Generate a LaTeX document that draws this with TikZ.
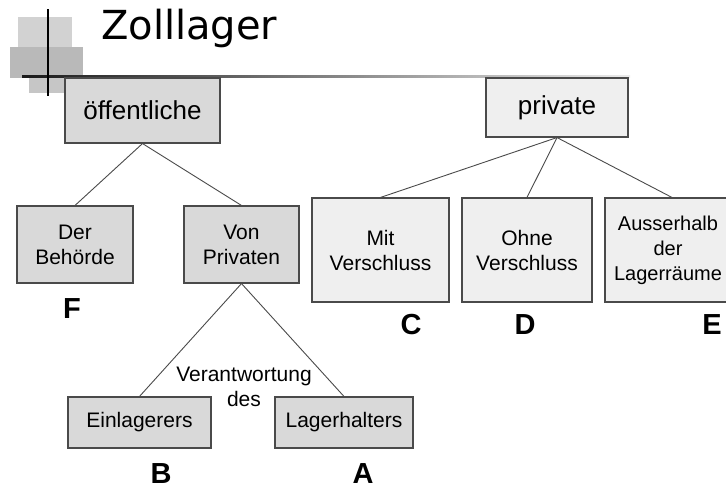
\documentclass[tikz,border=0pt]{standalone}
\usepackage{fontspec}
\setmainfont{Liberation Sans}
\newfontfamily\titlefont{DejaVu Sans}
\usepackage{tikz}
\usetikzlibrary{positioning}

\definecolor{boxdark}{HTML}{D9D9D9}
\definecolor{boxlight}{HTML}{EFEFEF}
\definecolor{edgegray}{HTML}{4A4A4A}

\tikzset{
  darkbox/.style={draw=edgegray, line width=1.1pt, fill=boxdark, align=center, inner sep=2pt,
    font=\fontsize{21}{25}\selectfont},
  lightbox/.style={darkbox, fill=boxlight},
  letter/.style={font=\fontsize{29}{34}\selectfont\bfseries, inner sep=0pt},
  branch/.style={draw=edgegray, line width=0.9pt}
}

\begin{document}
\begin{tikzpicture}[x=1pt, y=-1pt]
    \useasboundingbox (0,0) rectangle (726,491);
    \clip (0,0) rectangle (726,491);
    \fill[white] (0,0) rectangle (726,491);

    % Title decoration
    \fill[gray!35] (18,17) rectangle (72,50);
    \fill[gray!55] (10,47) rectangle (83,78);
    \fill[gray!45] (29,78) rectangle (65,93);
    \shade[left color=black!90, middle color=gray!85, right color=gray!15] (22,75) rectangle (630,77.5);
    \draw[line width=1.6pt] (48,9) -- (48,96);
    \node[anchor=base west, inner sep=0pt, font=\titlefont\fontsize{40}{44}\selectfont] (title) at (101,39) {Zolllager};

    % Boxes
    \node[darkbox, minimum width=155pt, minimum height=65pt, font=\fontsize{26}{31}\selectfont] (oeff) at (142.5,110.5) {öffentliche};
    \node[lightbox, minimum width=142pt, minimum height=59pt, font=\fontsize{26}{31}\selectfont] (priv) at (557,107.5) {private};

    \node[darkbox, minimum width=116pt, minimum height=77pt] (behoerde) at (75,244.5) {Der\\Behörde};
    \node[darkbox, minimum width=115pt, minimum height=77pt] (vonpriv) at (241.5,244.5) {Von\\Privaten};
    \node[darkbox, minimum width=143pt, minimum height=51pt] (einl) at (139.5,422.5) {Einlagerers};
    \node[darkbox, minimum width=138pt, minimum height=51pt] (lagerh) at (344,422.5) {Lagerhalters};

    \node[lightbox, minimum width=137pt, minimum height=104pt] (mit) at (380.5,250) {Mit\\Verschluss};
    \node[lightbox, minimum width=130pt, minimum height=104pt] (ohne) at (527,250) {Ohne\\Verschluss};
    \node[lightbox, minimum width=134pt, minimum height=104pt] (ausser) at (672,250) {};
    \node[align=center, inner sep=0pt, font=\fontsize{20}{25}\selectfont] (ausserText) at (668,250) {Ausserhalb\\der\\Lagerräume};

    \node[align=center, inner sep=0pt, font=\fontsize{21}{25}\selectfont] (verantw) at (244,387) {Verantwortung\\des};

    % Branches
    \draw[branch] (oeff.south) -- (behoerde.north);
    \draw[branch] (oeff.south) -- (vonpriv.north);
    \draw[branch] (vonpriv.south) -- (einl.north);
    \draw[branch] (vonpriv.south) -- (lagerh.north);
    \foreach \c in {mit, ohne, ausser} {
      \draw[branch] (priv.south) -- (\c.north);
    }

    % Letters
    \foreach \n/\x/\y in {F/72/309, B/161/474, A/363/474, C/411/325, D/525/325, E/712/325} {
      \node[letter] (lab\n) at (\x,\y) {\n};
    }
  \end{tikzpicture}
\end{document}
